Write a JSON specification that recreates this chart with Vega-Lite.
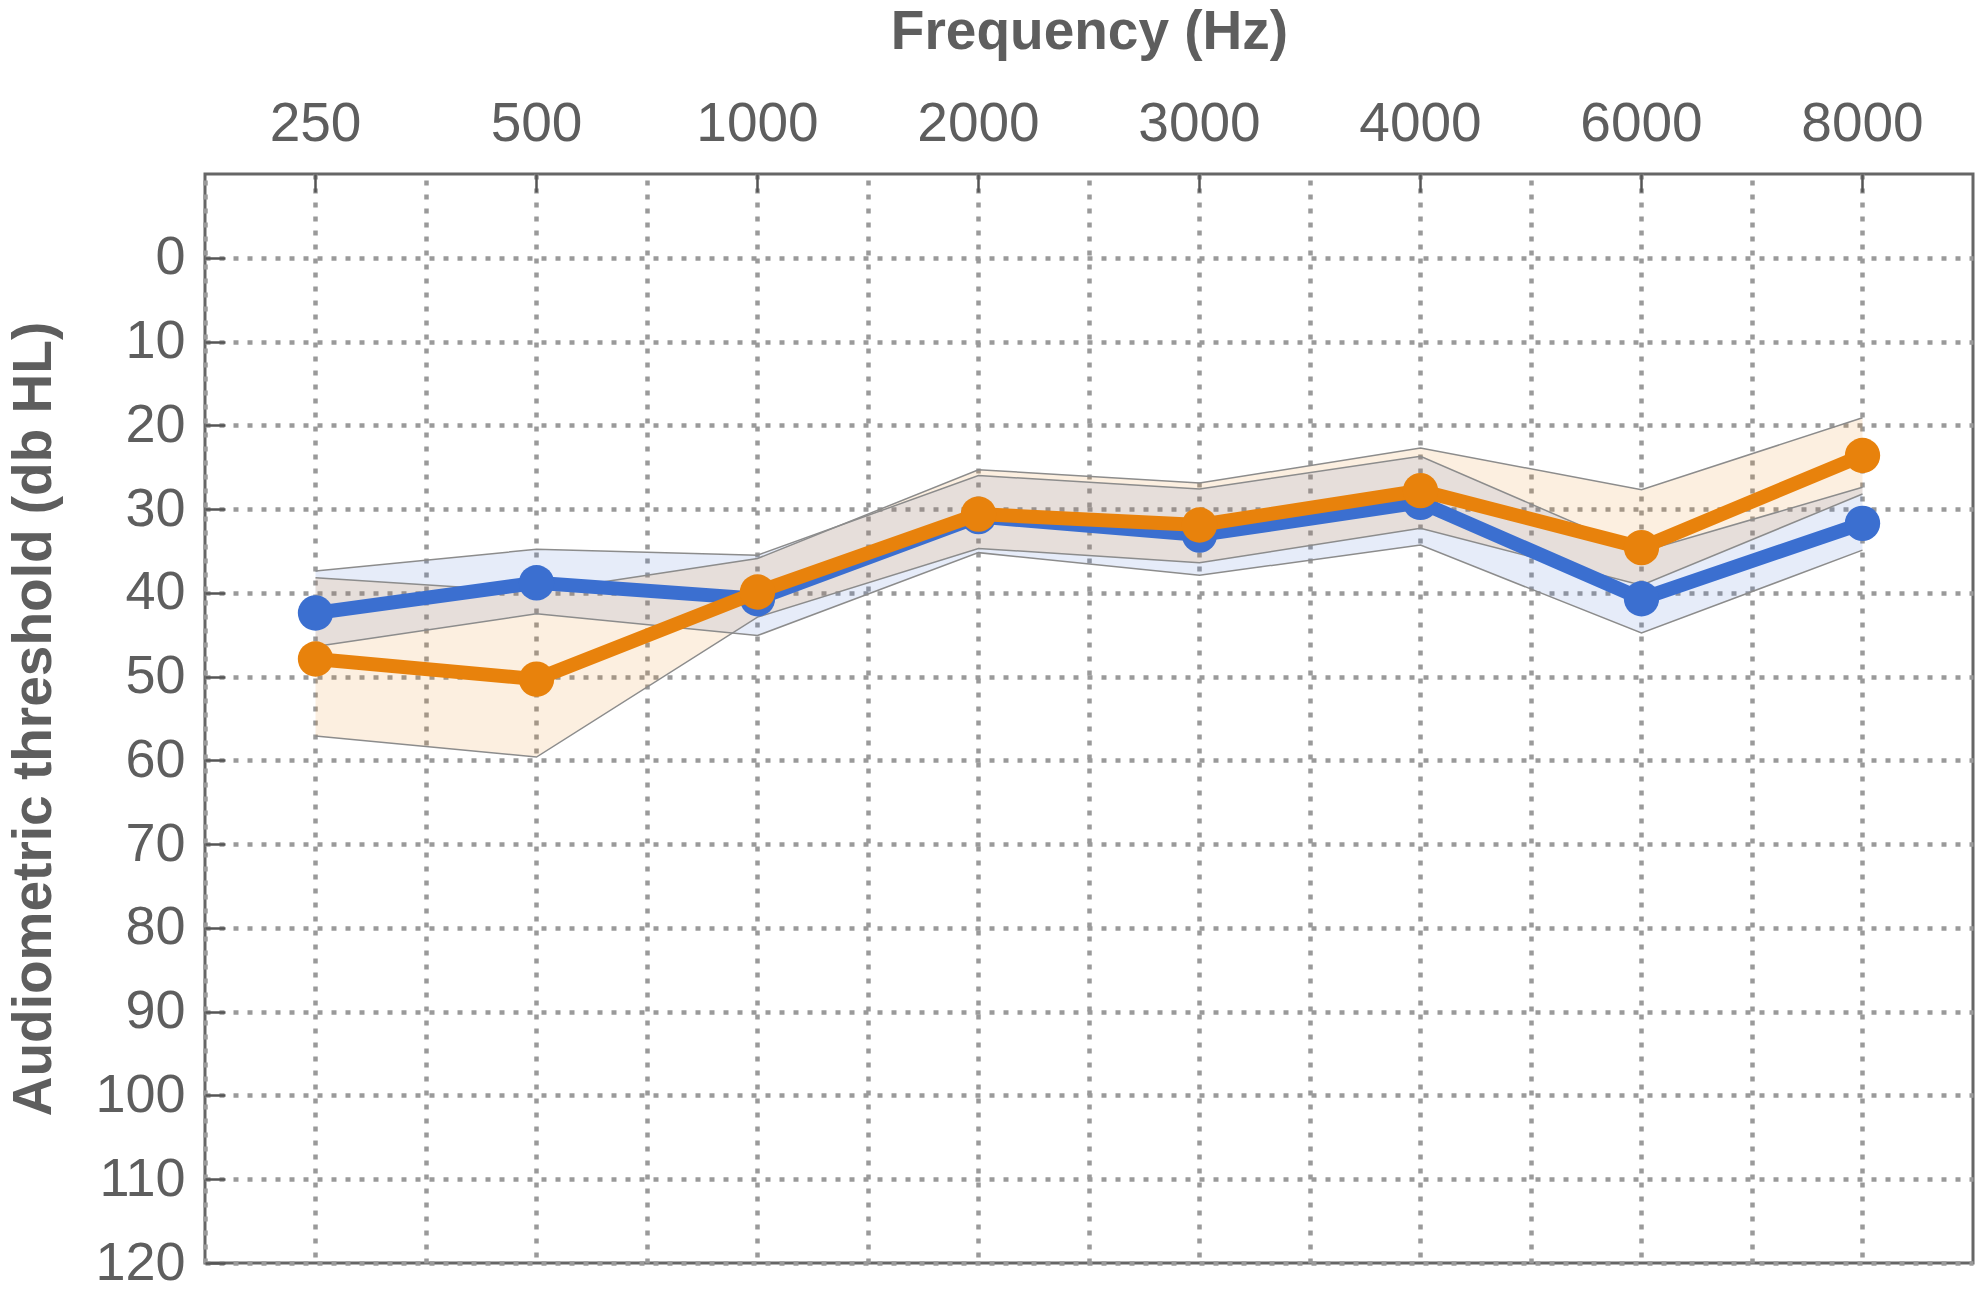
{
  "$schema": "https://vega.github.io/schema/vega-lite/v6.json",
  "width": 1768,
  "height": 1089,
  "autosize": {"type": "none"},
  "padding": {"left": 205, "top": 174, "right": 10, "bottom": 31},
  "background": "white",
  "config": {
    "view": {"stroke": "#666666", "strokeWidth": 3},
    "font": "Liberation Sans",
    "axis": {
      "labelFont": "Liberation Sans",
      "titleFont": "Liberation Sans",
      "labelColor": "#5e5e5e",
      "titleColor": "#5e5e5e",
      "gridColor": "#9a9a9a",
      "gridDash": [5, 9],
      "gridWidth": 4.5,
      "gridOpacity": 1
    },
    "axisY": {
      "grid": true, "domain": false,
      "ticks": true, "tickSize": -20, "tickColor": "#555555", "tickWidth": 2.5,
      "labelPadding": 40, "labelFontSize": 54,
      "titleFontSize": 55, "titleFontWeight": "bold", "titlePadding": 32
    }
  },
  "data": {
    "values": [
      {"freq": 250, "group": "G1", "mean": 42.4, "lo": 37.4, "hi": 46.4},
      {"freq": 500, "group": "G1", "mean": 38.8, "lo": 34.8, "hi": 42.5},
      {"freq": 1000, "group": "G1", "mean": 40.7, "lo": 35.5, "hi": 45.1},
      {"freq": 2000, "group": "G1", "mean": 30.9, "lo": 26.0, "hi": 35.2},
      {"freq": 3000, "group": "G1", "mean": 33.1, "lo": 27.6, "hi": 37.9},
      {"freq": 4000, "group": "G1", "mean": 29.2, "lo": 23.7, "hi": 34.3},
      {"freq": 6000, "group": "G1", "mean": 40.7, "lo": 35.1, "hi": 44.8},
      {"freq": 8000, "group": "G1", "mean": 31.7, "lo": 27.4, "hi": 34.9},
      {"freq": 250, "group": "G2", "mean": 47.9, "lo": 38.2, "hi": 57.1},
      {"freq": 500, "group": "G2", "mean": 50.3, "lo": 39.9, "hi": 59.6},
      {"freq": 1000, "group": "G2", "mean": 39.9, "lo": 35.9, "hi": 42.9},
      {"freq": 2000, "group": "G2", "mean": 30.6, "lo": 25.3, "hi": 34.7},
      {"freq": 3000, "group": "G2", "mean": 31.9, "lo": 26.9, "hi": 36.4},
      {"freq": 4000, "group": "G2", "mean": 27.8, "lo": 22.7, "hi": 32.3},
      {"freq": 6000, "group": "G2", "mean": 34.6, "lo": 27.7, "hi": 39.1},
      {"freq": 8000, "group": "G2", "mean": 23.6, "lo": 19.1, "hi": 28.2}
    ]
  },
  "layer": [
    {
      "mark": {"type": "area", "opacity": 0.13},
      "encoding": {
        "x": {
          "field": "freq", "type": "ordinal",
          "scale": {"type": "band", "paddingInner": 0, "paddingOuter": 0},
          "axis": {
            "orient": "top", "grid": true, "domain": false, "labelAngle": 0,
            "ticks": true, "tickSize": -18, "tickColor": "#555555", "tickWidth": 2.5,
            "labelPadding": 40, "labelFontSize": 55,
            "title": "Frequency (Hz)", "titleFontSize": 55, "titleFontWeight": "bold", "titlePadding": 36
          }
        },
        "y": {
          "field": "lo", "type": "quantitative",
          "scale": {"domain": [-10, 120], "reverse": true, "nice": false, "zero": false},
          "axis": {"title": "Audiometric threshold (db HL)", "values": [0, 10, 20, 30, 40, 50, 60, 70, 80, 90, 100, 110, 120]}
        },
        "y2": {"field": "hi"},
        "color": {"field": "group", "type": "nominal", "scale": {"domain": ["G1", "G2"], "range": ["#3b6fd0", "#e8820c"]}, "legend": null},
        "detail": {"field": "group"}
      }
    },
    {
      "mark": {"type": "line", "color": "#8c8c8c", "strokeWidth": 1.5},
      "encoding": {
        "x": {
          "field": "freq", "type": "ordinal",
          "axis": {"orient": "bottom", "bandPosition": 0, "grid": true, "labels": false, "ticks": false, "domain": false, "title": null}
        },
        "y": {"field": "lo", "type": "quantitative", "axis": {"title": "Audiometric threshold (db HL)", "values": [0, 10, 20, 30, 40, 50, 60, 70, 80, 90, 100, 110, 120]}},
        "detail": {"field": "group"}
      }
    },
    {
      "mark": {"type": "line", "color": "#8c8c8c", "strokeWidth": 1.5},
      "encoding": {
        "x": {"field": "freq", "type": "ordinal", "axis": null},
        "y": {"field": "hi", "type": "quantitative", "axis": {"title": "Audiometric threshold (db HL)", "values": [0, 10, 20, 30, 40, 50, 60, 70, 80, 90, 100, 110, 120]}},
        "detail": {"field": "group"}
      }
    },
    {
      "transform": [{"filter": "datum.group === 'G1'"}],
      "mark": {"type": "line", "color": "#3b6fd0", "strokeWidth": 14},
      "encoding": {
        "x": {"field": "freq", "type": "ordinal", "axis": null},
        "y": {"field": "mean", "type": "quantitative", "axis": {"title": "Audiometric threshold (db HL)", "values": [0, 10, 20, 30, 40, 50, 60, 70, 80, 90, 100, 110, 120]}}
      }
    },
    {
      "transform": [{"filter": "datum.group === 'G1'"}],
      "mark": {"type": "circle", "color": "#3b6fd0", "opacity": 1, "size": 1250},
      "encoding": {
        "x": {"field": "freq", "type": "ordinal", "axis": null},
        "y": {"field": "mean", "type": "quantitative", "axis": {"title": "Audiometric threshold (db HL)", "values": [0, 10, 20, 30, 40, 50, 60, 70, 80, 90, 100, 110, 120]}}
      }
    },
    {
      "transform": [{"filter": "datum.group === 'G2'"}],
      "mark": {"type": "line", "color": "#e8820c", "strokeWidth": 14},
      "encoding": {
        "x": {"field": "freq", "type": "ordinal", "axis": null},
        "y": {"field": "mean", "type": "quantitative", "axis": {"title": "Audiometric threshold (db HL)", "values": [0, 10, 20, 30, 40, 50, 60, 70, 80, 90, 100, 110, 120]}}
      }
    },
    {
      "transform": [{"filter": "datum.group === 'G2'"}],
      "mark": {"type": "circle", "color": "#e8820c", "opacity": 1, "size": 1250},
      "encoding": {
        "x": {"field": "freq", "type": "ordinal", "axis": null},
        "y": {"field": "mean", "type": "quantitative", "axis": {"title": "Audiometric threshold (db HL)", "values": [0, 10, 20, 30, 40, 50, 60, 70, 80, 90, 100, 110, 120]}}
      }
    }
  ]
}
